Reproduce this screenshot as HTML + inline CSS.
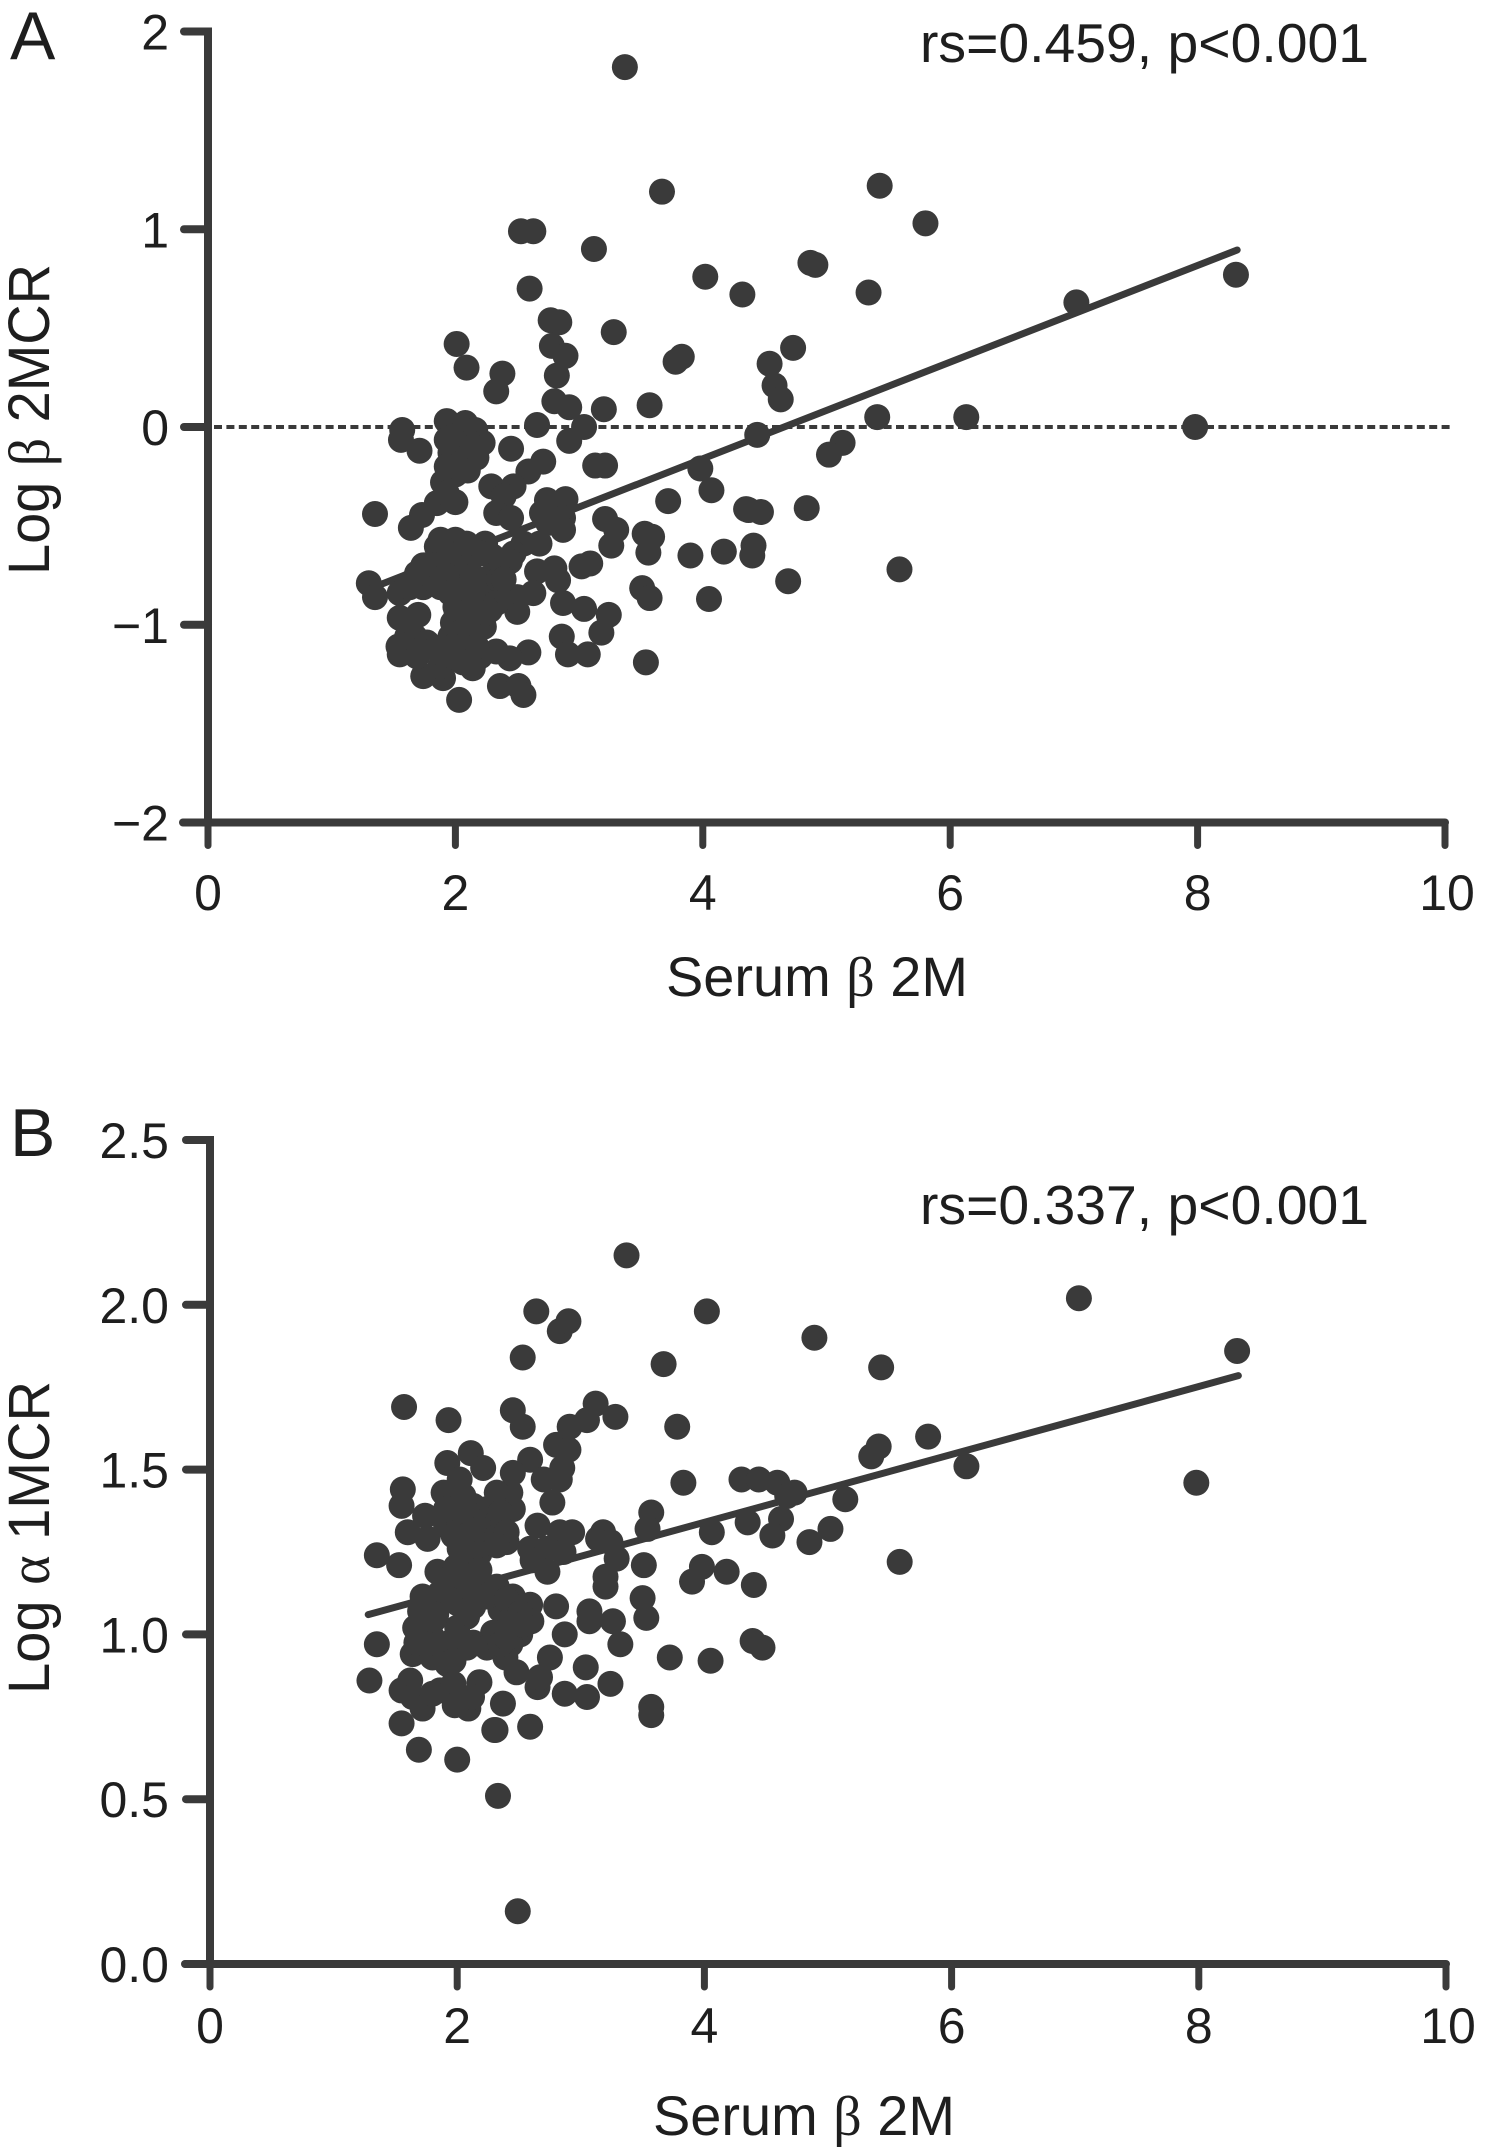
<!DOCTYPE html>
<html lang="en">
<head>
<meta charset="utf-8">
<title>Serum β2M correlations</title>
<style>
html,body{margin:0;padding:0;background:#fff;}
svg{display:block;}
text{font-family:"Liberation Sans",sans-serif;fill:#1e1e1e;}
.greek{font-family:"Liberation Serif",serif;}
</style>
</head>
<body>
<svg id="chart" xmlns="http://www.w3.org/2000/svg" width="1491" height="2152" viewBox="0 0 1491 2152">
  <rect width="1491" height="2152" fill="#ffffff"/>
  <text x="10" y="59" font-size="68">A</text>
  <text x="10" y="1156" font-size="68">B</text>
  <text x="920" y="62" font-size="55" textLength="449" lengthAdjust="spacingAndGlyphs">rs=0.459, p&lt;0.001</text>
  <text x="920" y="1224" font-size="55" textLength="449" lengthAdjust="spacingAndGlyphs">rs=0.337, p&lt;0.001</text>
  <text x="666" y="996" font-size="56" textLength="302" lengthAdjust="spacingAndGlyphs">Serum <tspan class="greek">β</tspan> 2M</text>
  <text x="653" y="2135" font-size="56" textLength="302" lengthAdjust="spacingAndGlyphs">Serum <tspan class="greek">β</tspan> 2M</text>
  <text transform="translate(49 575) rotate(-90)" font-size="58" textLength="311" lengthAdjust="spacingAndGlyphs">Log <tspan class="greek">β</tspan> 2MCR</text>
  <text transform="translate(49 1694) rotate(-90)" font-size="58" textLength="313" lengthAdjust="spacingAndGlyphs">Log <tspan class="greek">α</tspan> 1MCR</text>
  <g id="panelA"></g>
  <g id="panelB"></g>
</svg>
<script>
const xTickValues = [0, 2, 4, 6, 8, 10];
const xTickLabels = ["0", "2", "4", "6", "8", "10"];
const yTickValuesA = [2, 1, 0, -1, -2];
const yTickLabelsA = ["2", "1", "0", "\u22121", "\u22122"];
const yTickValuesB = [2.5, 2, 1.5, 1, 0.5, 0];
const yTickLabelsB = ["2.5", "2.0", "1.5", "1.0", "0.5", "0.0"];

const trendXA = [1.3, 8.32];
const trendYA = [-0.82, 0.895];
const trendXB = [1.28, 8.32];
const trendYB = [1.06, 1.785];
const referenceXA = [0, 10.05];
const referenceYA = [0, 0];

const xA = [
5.43,5.80,4.87,4.91,4.32,5.34,4.73,4.54,4.58,4.63,4.44,7.02,8.31,5.41,6.13,7.98,5.13,5.02,4.37,4.47,4.84,4.41,4.40,4.69,5.59,
3.37,3.67,2.53,2.63,3.12,4.02,2.60,2.77,2.84,3.28,2.01,2.09,2.78,2.89,2.82,2.38,2.33,3.83,3.78,2.80,2.92,3.20,3.57,
2.66,1.57,1.56,1.71,1.93,2.08,2.16,1.98,2.12,2.22,1.96,2.09,2.17,2.10,1.90,2.00,2.45,3.04,2.92,2.71,2.59,3.13,3.21,3.98,4.07,3.72,4.35,
2.29,2.47,2.39,2.33,2.45,2.00,1.85,1.73,1.64,1.35,2.74,2.89,2.70,2.87,2.87,2.75,2.68,2.55,2.47,2.44,
3.21,3.30,3.26,3.53,3.59,3.56,3.90,4.17,3.02,3.09,3.51,3.57,4.05,
1.30,1.35,1.55,1.63,2.80,2.66,2.83,2.50,2.63,2.50,2.87,3.04,3.24,3.18,2.86,2.91,3.07,3.54,2.59,2.44,2.33,2.36,2.51,2.55,2.03,1.90,1.74,2.14,
1.55,1.70,1.54,1.55,1.67,1.77,1.69,1.88,1.98,2.20,2.09,1.96,2.14,1.98,2.17,2.28,2.12,2.00,2.28,2.04,1.88,1.74,1.75,1.85,2.00,1.90,2.06,2.06,1.93,2.24,2.14,2.30,2.29,2.14,
1.82,1.96,2.14,2.25,1.82,2.20,2.09,2.01,2.23,2.04,2.17,1.98,1.88,2.06,2.20,2.04,2.33,2.25,2.35,2.41,2.39,1.61,1.71,1.63,1.88,2.09,1.74,1.69,1.63,2.06,1.93,2.14,1.93,1.93
];
const yA = [
1.22,1.03,0.83,0.82,0.67,0.68,0.40,0.32,0.21,0.14,-0.04,0.63,0.77,0.05,0.05,0.00,-0.08,-0.14,-0.42,-0.43,-0.41,-0.60,-0.65,-0.78,-0.72,
1.82,1.19,0.99,0.99,0.90,0.76,0.70,0.54,0.53,0.48,0.42,0.30,0.41,0.36,0.26,0.27,0.18,0.355,0.33,0.13,0.10,0.09,0.11,
0.01,-0.015,-0.065,-0.12,0.03,0.02,-0.015,-0.05,-0.08,-0.08,-0.13,-0.155,-0.155,-0.22,-0.28,-0.24,-0.11,0.00,-0.07,-0.175,-0.225,-0.195,-0.195,-0.21,-0.32,-0.375,-0.415,
-0.30,-0.30,-0.35,-0.435,-0.46,-0.38,-0.385,-0.445,-0.51,-0.44,-0.37,-0.365,-0.435,-0.46,-0.52,-0.485,-0.59,-0.59,-0.64,-0.68,
-0.465,-0.52,-0.60,-0.54,-0.555,-0.635,-0.65,-0.63,-0.705,-0.69,-0.815,-0.865,-0.87,
-0.79,-0.86,-0.84,-0.79,-0.715,-0.73,-0.775,-0.86,-0.84,-0.935,-0.89,-0.92,-0.95,-1.04,-1.06,-1.15,-1.15,-1.19,-1.14,-1.17,-1.135,-1.31,-1.31,-1.355,-1.38,-1.27,-1.26,-1.22,
-0.965,-0.95,-1.11,-1.15,-1.06,-1.09,-1.16,-1.21,-1.16,-1.16,-1.13,-1.06,-1.06,-0.99,-0.975,-0.925,-0.925,-0.91,-0.84,-0.84,-0.81,-0.81,-0.70,-0.605,-0.57,-0.67,-0.67,-0.755,-0.755,-0.59,-0.62,-0.655,-0.755,-0.755,
-0.70,-0.84,-0.84,-0.77,-0.77,-0.91,-1.00,-0.94,-1.01,-1.04,-1.11,-1.11,-1.14,-1.19,-0.64,-0.64,-0.89,-0.94,-0.77,-0.84,-0.77,-1.06,-1.13,-0.98,-0.57,-0.59,-0.70,-0.74,-0.81,-0.18,-0.20,-0.10,-0.065,-0.335
];

const xB = [
4.89,7.03,8.31,5.43,5.81,5.41,5.35,6.12,7.98,5.14,4.62,4.55,4.35,5.02,4.85,5.58,4.40,4.39,4.47,4.30,4.44,4.59,4.73,4.67,
1.57,1.93,2.45,2.53,3.12,3.28,3.05,2.91,2.80,2.90,3.78,3.83,2.85,2.59,2.45,2.70,2.83,2.77,2.11,1.92,2.21,1.89,2.02,2.05,2.43,2.32,2.45,2.24,2.13,
1.56,1.55,1.74,1.91,1.60,1.76,2.02,2.16,2.32,2.40,3.57,3.54,4.06,2.65,2.83,2.93,3.18,3.14,3.24,3.29,2.59,2.73,2.86,2.61,2.73,3.20,3.20,3.51,3.98,3.90,4.18,
3.50,3.53,2.80,3.07,3.07,3.26,3.32,2.87,2.75,3.04,3.24,2.65,2.87,3.05,2.67,3.72,4.05,1.35,1.29,1.35,1.53,3.57,3.57,2.37,2.30,2.59,1.55,
1.84,2.02,2.16,2.08,1.72,1.70,1.66,1.64,1.86,1.94,2.13,2.32,2.45,2.59,2.60,2.51,2.43,2.39,2.48,2.00,2.13,2.35,2.00,2.13,2.29,1.80,1.94,1.80,1.92,2.08,
1.62,1.55,1.64,1.72,1.86,1.97,1.98,2.09,2.18,2.12,1.80,
1.69,2.00,2.31,2.33,2.49,2.64,2.83,2.90,2.53,3.37,4.02,3.67,
2.08,2.18,2.32,2.08,2.18,2.08,1.99,2.18,1.91,2.08,2.24,2.40,1.94,1.83,2.08,2.43,2.51,1.81,2.02,2.24,2.35,2.40,2.53,1.75,1.67,1.97,1.91,2.35,1.97,2.40,2.32
];
const yB = [
1.90,2.02,1.86,1.81,1.60,1.57,1.54,1.51,1.46,1.41,1.35,1.30,1.34,1.32,1.28,1.22,1.15,0.98,0.96,1.47,1.47,1.46,1.43,1.42,
1.69,1.65,1.68,1.63,1.70,1.66,1.65,1.63,1.575,1.56,1.63,1.46,1.505,1.53,1.49,1.47,1.47,1.40,1.55,1.52,1.505,1.43,1.47,1.42,1.43,1.43,1.38,1.38,1.39,
1.44,1.39,1.36,1.33,1.31,1.29,1.34,1.34,1.34,1.28,1.37,1.32,1.31,1.33,1.31,1.31,1.31,1.29,1.28,1.23,1.26,1.26,1.25,1.225,1.19,1.175,1.145,1.21,1.205,1.16,1.19,
1.11,1.05,1.085,1.07,1.04,1.04,0.97,1.00,0.93,0.90,0.85,0.84,0.82,0.81,0.87,0.93,0.92,0.97,0.86,1.24,1.21,0.78,0.755,0.79,0.71,0.72,0.73,
1.19,1.26,1.28,1.195,1.115,1.07,1.02,0.94,1.125,1.145,1.145,1.145,1.115,1.09,1.04,1.00,0.97,0.93,0.885,1.095,1.085,1.075,1.02,0.975,1.005,0.99,0.975,0.93,0.91,0.96,
0.86,0.83,0.81,0.775,0.83,0.85,0.785,0.775,0.855,0.81,0.82,
0.65,0.62,0.71,0.51,0.16,1.98,1.92,1.95,1.84,2.15,1.98,1.82,
1.37,1.32,1.296,1.30,1.245,1.235,1.205,1.195,1.165,1.145,1.115,1.105,1.105,1.06,1.054,1.043,1.064,1.044,0.99,0.96,0.97,0.99,1.03,0.97,0.975,0.92,1.38,1.37,1.30,1.31,1.27
];

const SVGNS = "http://www.w3.org/2000/svg";
const INK = "#3a3a3a";
function scaleXA(v){ return 208 + v * 123.7; }
function scaleYA(v){ return 427 - v * 197.75; }
function scaleXB(v){ return 210 + v * 123.6; }
function scaleYB(v){ return 1964 - v * 329.6; }

function make(parent, tag, attrs){
  const el = document.createElementNS(SVGNS, tag);
  for (const k in attrs) el.setAttribute(k, attrs[k]);
  parent.appendChild(el);
  return el;
}

function drawPanel(g, prefix, sx, sy, xs, ys, trendX, trendY, yTicks, yLabels, axisBaseline){
  const x0 = sx(0), x10 = sx(10), yBottom = sy(yTicks[yTicks.length - 1]), yTop = sy(yTicks[0]);

  const yAxis = make(g, "line", {x1:x0, y1:yTop, x2:x0, y2:yBottom, stroke:INK, "stroke-width":8, "stroke-linecap":"square"});
  
  

  const xAxis = make(g, "line", {x1:x0 - 25, y1:yBottom, x2:x10, y2:yBottom, stroke:INK, "stroke-width":8, "stroke-linecap":"round"});
  
  

  yTicks.forEach(function(v, i){
    const t = make(g, "line", {x1:x0 - 24, y1:sy(v), x2:x0, y2:sy(v), stroke:INK, "stroke-width":8, "stroke-linecap":"round"});
    
    
    const l = make(g, "text", {x:169, y:sy(v) + 18, "font-size":50, "text-anchor":"end"});
    l.textContent = yLabels[i];
    
    
  });

  xTickValues.forEach(function(v, i){
    const t = make(g, "line", {x1:sx(v), y1:yBottom, x2:sx(v), y2:yBottom + 23, stroke:INK, "stroke-width":7, "stroke-linecap":"round"});
    
    
    const l = make(g, "text", {x:sx(v) + (v === 10 ? 2 : 0), y:axisBaseline, "font-size":50, "text-anchor":"middle"});
    l.textContent = xTickLabels[i];
    
    
  });

  const trend = make(g, "line", {x1:sx(trendX[0]), y1:sy(trendY[0]), x2:sx(trendX[1]), y2:sy(trendY[1]), stroke:INK, "stroke-width":7, "stroke-linecap":"round"});
  
  

  xs.forEach(function(v, i){
    const c = make(g, "circle", {cx:sx(v), cy:sy(ys[i]), r:13, fill:INK});
    
    
  });
}

const panelA = document.getElementById("panelA");
const panelB = document.getElementById("panelB");

const refLine = make(panelA, "line", {x1:scaleXA(referenceXA[0]) + 6, y1:scaleYA(referenceYA[0]), x2:scaleXA(referenceXA[1]), y2:scaleYA(referenceYA[1]), stroke:INK, "stroke-width":4, "stroke-dasharray":"8 4.4"});



drawPanel(panelA, "panel-a", scaleXA, scaleYA, xA, yA, trendXA, trendYA, yTickValuesA, yTickLabelsA, 910);
drawPanel(panelB, "panel-b", scaleXB, scaleYB, xB, yB, trendXB, trendYB, yTickValuesB, yTickLabelsB, 2043);
</script>
</body>
</html>
